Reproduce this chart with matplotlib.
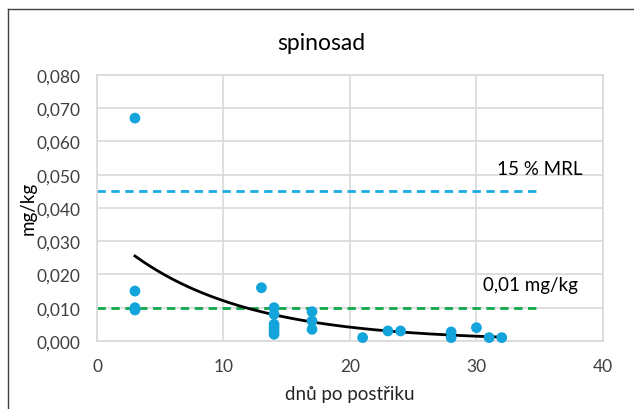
import numpy as np
import matplotlib.pyplot as plt
from matplotlib.ticker import FuncFormatter

plt.rcParams['font.family'] = ['Lato', 'DejaVu Sans']

# residues of spinosad vs. days after spraying
days = np.array([3, 3, 3, 3, 13, 14, 14, 14, 14, 14, 14, 17, 17, 17,
                 21, 23, 24, 28, 28, 30, 31, 32])
residue = np.array([0.067, 0.015, 0.010, 0.0093, 0.016, 0.010, 0.008, 0.005,
                    0.004, 0.003, 0.002, 0.0088, 0.006, 0.0035, 0.001, 0.003,
                    0.003, 0.0027, 0.001, 0.004, 0.001, 0.001])

# exponential trendline y = a * exp(b * x)
trend_a = 0.0352
trend_b = -0.107

mrl_15 = 0.045
loq = 0.010
limit_x = [0, 35]

blue = '#12A4DA'
green = '#12A84B'
grid_c = '#D9D9D9'

fig = plt.figure(figsize=(6.34, 4.10), dpi=100)
ax = fig.add_axes([0.153, 0.166, 0.798, 0.649])

ax.plot(limit_x, [mrl_15, mrl_15], color='#1AABE3', lw=2, ls=(0, (3, 2)), zorder=2)
ax.plot(limit_x, [loq, loq], color=green, lw=2, ls=(0, (3, 2)), zorder=2)

xt = np.linspace(days.min(), days.max(), 200)
ax.plot(xt, trend_a * np.exp(trend_b * xt), color='black', lw=2, zorder=3)

ax.scatter(days, residue, s=60, color=blue, edgecolors='none', zorder=4, clip_on=False)

ax.text(35, 0.0517, '15 % MRL', ha='center', va='center', fontsize=13.5)
ax.text(34.3, 0.0171, '0,01 mg/kg', ha='center', va='center', fontsize=13.5)

ax.set_xlim(0, 40)
ax.set_ylim(0, 0.080)
ax.set_xticks(np.arange(0, 41, 10))
ax.set_yticks(np.arange(0, 0.0801, 0.01))
ax.yaxis.set_major_formatter(FuncFormatter(lambda v, p: f'{v:.3f}'.replace('.', ',')))
ax.grid(True, color=grid_c, lw=1.2)
ax.set_axisbelow(True)
for s in ax.spines.values():
    s.set_color(grid_c)
    s.set_linewidth(1.2)
ax.tick_params(length=0, labelsize=12.5, colors='#404040')
ax.tick_params(axis='x', pad=12)
ax.tick_params(axis='y', pad=12)

fig.text(321 / 634, 1 - 43 / 410, 'spinosad', ha='center', va='center', fontsize=16.5)
ax.set_xlabel('dnů po postřiku', fontsize=13.5, color='#262626', labelpad=8)
ax.set_ylabel('mg/kg', fontsize=13.5, color='black', va='center')
ax.yaxis.set_label_coords(-0.136, 0.5)

# chart border (left and top edges)
fig.add_artist(plt.Line2D([7.5 / 634, 7.5 / 634], [0, 1 - 9.5 / 410],
                          transform=fig.transFigure, color='#404040', lw=1))
fig.add_artist(plt.Line2D([7.5 / 634, 1], [1 - 9.5 / 410, 1 - 9.5 / 410],
                          transform=fig.transFigure, color='#404040', lw=1))

plt.savefig('out.png', dpi=100)
